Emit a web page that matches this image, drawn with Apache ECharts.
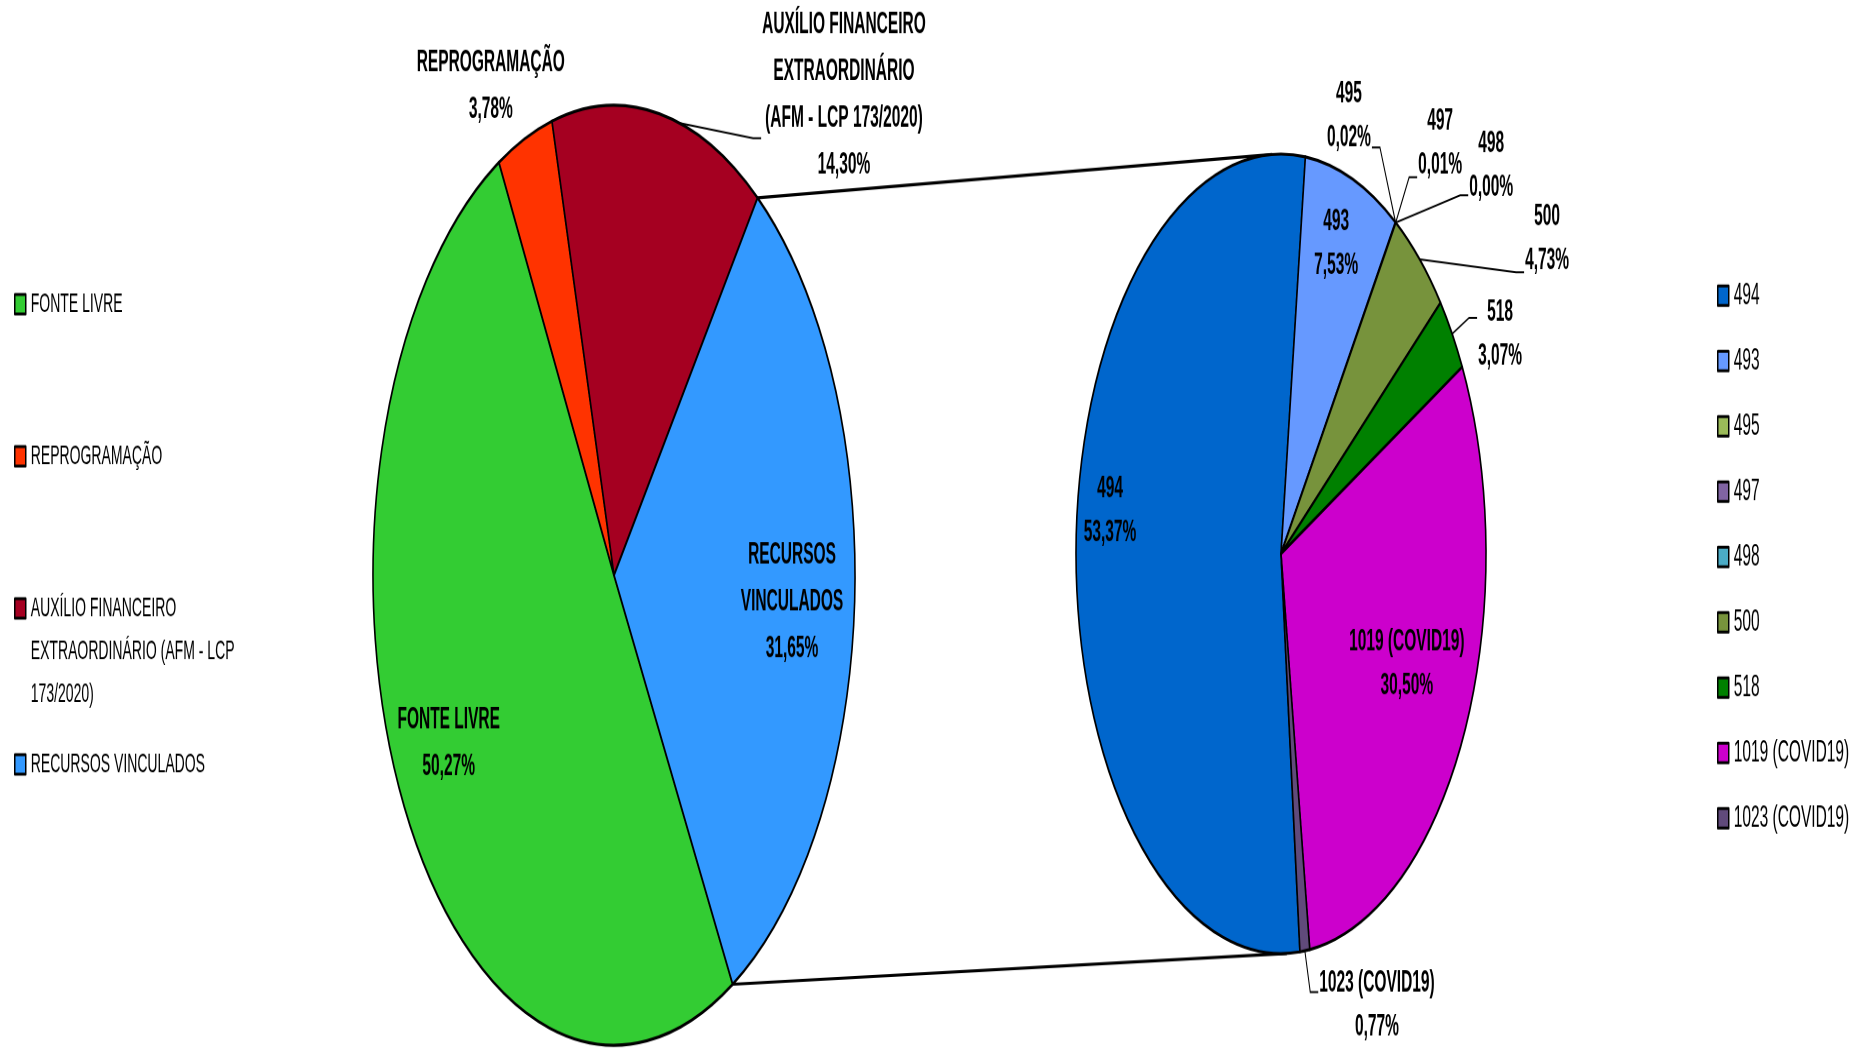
<!DOCTYPE html>
<html><head><meta charset="utf-8">
<script src="https://cdn.jsdelivr.net/npm/echarts@6/dist/echarts.min.js"></script>
<style>
html,body{margin:0;padding:0;background:#fff;overflow:hidden;width:1869px;height:1049px}
#wrap{width:1869px;height:538px;transform:scaleY(1.95);transform-origin:0 0}
#chart{width:1869px;height:538px}
</style></head>
<body><div id="wrap"><div id="chart"></div></div>
<script>
// ---------- DATA ----------
const mainCategories = ['FONTE LIVRE', 'REPROGRAMAÇÃO', 'AUXÍLIO FINANCEIRO EXTRAORDINÁRIO (AFM - LCP 173/2020)', 'RECURSOS VINCULADOS'];
const mainValues = [50.27, 3.78, 14.30, 31.65];
const mainLabelText = ['FONTE LIVRE', 'REPROGRAMAÇÃO', 'AUXÍLIO FINANCEIRO\nEXTRAORDINÁRIO\n(AFM - LCP 173/2020)', 'RECURSOS\nVINCULADOS'];
const mainLegendText = ['FONTE LIVRE', 'REPROGRAMAÇÃO', 'AUXÍLIO FINANCEIRO\nEXTRAORDINÁRIO (AFM - LCP\n173/2020)', 'RECURSOS VINCULADOS'];
const splitCategory = 'RECURSOS VINCULADOS';

const subCategories = ['494', '493', '495', '497', '498', '500', '518', '1019 (COVID19)', '1023 (COVID19)'];
const subValues = [53.37, 7.53, 0.02, 0.01, 0.00, 4.73, 3.07, 30.50, 0.77];

// ---------- STYLE / LAYOUT ----------
const mainColors = ['#33CC33', '#FF3300', '#A50021', '#3399FF'];
const subColors = ['#0066CC', '#6699FF', '#9BBB59', '#8064A2', '#4BACC6', '#77933C', '#008000', '#CC00CC', '#604A7B'];
const FONT = "'Liberation Sans', Arial, sans-serif";
const LP = {cx: 614, cy: 295, r: 241, start: -60.5};
const RP = {cx: 1281, cy: 284, r: 205, start: -84.7};
const mainPlace = [
  {mode: 'in', k: 0.77, dx: -3, dy: -4},
  {mode: 'out', dx: -34, dy: -27, line: false},
  {mode: 'out', dx: 184.7, dy: -9.4, line: true, lineDy: 22, da: -5},
  {mode: 'in', k: 0.74, dx: 0, dy: 2.6}
];
const subPlace = [
  {mode: 'in', k: 0.8, dx: -7, dy: -19.8},
  {mode: 'in', k: 0.8, dx: -2, dy: -5.3},
  {mode: 'out', dx: -46.6, dy: -54.4, line: true, lineDy: 16},
  {mode: 'out', dx: 44.4, dy: -40.6, line: true, lineDy: 17.4},
  {mode: 'out', dx: 95.4, dy: -29.3, line: true, lineDy: 15.3},
  {mode: 'out', dx: 127.4, dy: -10.4, line: true, lineDy: 17},
  {mode: 'out', dx: 47.9, dy: 0.3, line: true, lineDy: -8.5},
  {mode: 'in', k: 0.7, dx: -2, dy: -8.7},
  {mode: 'out', dx: 72.1, dy: 27.8, line: true, lineDy: -6.7}
];
const leftLegendY = [156, 234, 312, 392];
const rightLegendY0 = 151.6, rightLegendStep = 33.5;

// ---------- HELPERS ----------
const toRad = d => d * Math.PI / 180;
const sum = a => a.reduce((s, v) => s + v, 0);
function sliceAngles(values, start) {
  const tot = sum(values); let acc = 0;
  return values.map(v => {
    const a0 = start - acc / tot * 360; acc += v;
    const a1 = start - acc / tot * 360;
    return {a0, a1, mid: (a0 + a1) / 2};
  });
}
function pt(cfg, a, k) {
  return [cfg.cx + k * cfg.r * Math.cos(toRad(a)), cfg.cy - k * cfg.r * Math.sin(toRad(a))];
}
function tangents(P, cfg) {
  const dx = P[0] - cfg.cx, dy = P[1] - cfg.cy;
  const d = Math.hypot(dx, dy), th = Math.atan2(dy, dx), al = Math.acos(cfg.r / d);
  return [th + al, th - al].map(t => [cfg.cx + cfg.r * Math.cos(t), cfg.cy + cfg.r * Math.sin(t)]);
}
const pct = v => v.toFixed(2).replace('.', ',') + '%';

const mainAngles = sliceAngles(mainValues, LP.start);
const subAngles = sliceAngles(subValues, RP.start);

function makeLayout(cfg, angles, place) {
  return function (params) {
    const i = params.dataIndex, p = place[i], a = angles[i].mid;
    if (p.mode === 'in') {
      const c = pt(cfg, a, p.k);
      return {x: c[0] + p.dx, y: c[1] + p.dy, align: 'center', verticalAlign: 'middle'};
    }
    const e = pt(cfg, a, 1);
    const lx = e[0] + p.dx, ly = e[1] + p.dy;
    const res = {x: lx, y: ly, align: 'center', verticalAlign: 'middle'};
    if (p.line) {
      const s = pt(cfg, a + (p.da || 0), 1);
      const w = params.labelRect.width;
      const right = lx > s[0];
      const endX = right ? lx - w / 2 - 1 : lx + w / 2 + 1;
      const endY = ly + p.lineDy;
      const elbowX = right ? endX - 8 : endX + 8;
      res.labelLinePoints = [s, [elbowX, endY], [endX, endY]];
    }
    return res;
  };
}

// connector lines between the pies
const si = mainCategories.indexOf(splitCategory);
const pTop = pt(LP, mainAngles[si].a0, 1);
const pBot = pt(LP, mainAngles[si].a1, 1);
const tTop = tangents(pTop, RP).sort((u, v) => u[1] - v[1])[0];
const tBot = tangents(pBot, RP).sort((u, v) => v[1] - u[1])[0];

const labelBase = {show: true, position: 'outside', color: '#000', fontFamily: FONT, fontWeight: 'bold', fontSize: 15.5};

const mainData = mainCategories.map((n, i) => ({
  name: n, value: mainValues[i], itemStyle: {color: mainColors[i]},
  labelLine: {show: !!mainPlace[i].line}
}));
const subData = subCategories.map((n, i) => ({
  name: n, value: subValues[i], itemStyle: {color: subColors[i]},
  labelLine: {show: !!subPlace[i].line}
}));

function leftLegend(i) {
  const txt = mainLegendText[i];
  const nLines = txt.split('\n').length;
  // pad with empty lines so the icon sits beside the first text line
  const padded = '\n'.repeat(nLines - 1) + txt;
  const lh = nLines > 1 ? 22 : 20;
  const totalLines = 2 * nLines - 1;
  return {
    data: [mainCategories[i]], orient: 'vertical', left: 14,
    top: leftLegendY[i] - totalLines * lh / 2,
    padding: 0, itemWidth: 11, itemHeight: 10, icon: 'rect', selectedMode: false,
    itemStyle: {borderColor: '#000', borderWidth: 1.5},
    formatter: () => padded,
    textStyle: {fontFamily: FONT, fontSize: 14, color: '#000', lineHeight: lh}
  };
}

const option = {
  backgroundColor: '#fff',
  animation: false,
  legend: [
    leftLegend(0), leftLegend(1), leftLegend(2), leftLegend(3),
    {
      data: subCategories, orient: 'vertical', left: 1717, top: rightLegendY0 - 9,
      itemGap: rightLegendStep - 18, padding: 0, itemWidth: 11, itemHeight: 10, icon: 'rect', selectedMode: false,
      itemStyle: {borderColor: '#000', borderWidth: 1.5},
      textStyle: {fontFamily: FONT, fontSize: 15.5, color: '#000', lineHeight: 18}
    }
  ],
  graphic: [
    {type: 'line', shape: {x1: pTop[0], y1: pTop[1], x2: tTop[0], y2: tTop[1]}, style: {stroke: '#000', lineWidth: 1.6}},
    {type: 'line', shape: {x1: pBot[0], y1: pBot[1], x2: tBot[0], y2: tBot[1]}, style: {stroke: '#000', lineWidth: 1.6}}
  ],
  series: [
    {
      type: 'pie', name: 'main', center: [LP.cx, LP.cy], radius: LP.r, startAngle: LP.start, clockwise: true,
      avoidLabelOverlap: false, silent: true, minShowLabelAngle: 0,
      itemStyle: {borderColor: '#000', borderWidth: 1.6},
      label: Object.assign({}, labelBase, {lineHeight: 24,
        formatter: p => mainLabelText[p.dataIndex] + '\n' + pct(p.value)}),
      labelLine: {lineStyle: {color: '#000', width: 1}},
      labelLayout: makeLayout(LP, mainAngles, mainPlace),
      emphasis: {disabled: true},
      data: mainData
    },
    {
      type: 'pie', name: 'sub', center: [RP.cx, RP.cy], radius: RP.r, startAngle: RP.start, clockwise: true,
      avoidLabelOverlap: false, silent: true, minShowLabelAngle: 0, stillShowZeroSum: true,
      itemStyle: {borderColor: '#000', borderWidth: 1.6},
      label: Object.assign({}, labelBase, {lineHeight: 22.5,
        formatter: p => p.name + '\n' + pct(p.value)}),
      labelLine: {lineStyle: {color: '#000', width: 1}},
      labelLayout: makeLayout(RP, subAngles, subPlace),
      emphasis: {disabled: true},
      data: subData
    }
  ]
};
const chart = echarts.init(document.getElementById('chart'), null, {renderer: 'canvas', devicePixelRatio: 2});
chart.setOption(option);
</script>
</body></html>
